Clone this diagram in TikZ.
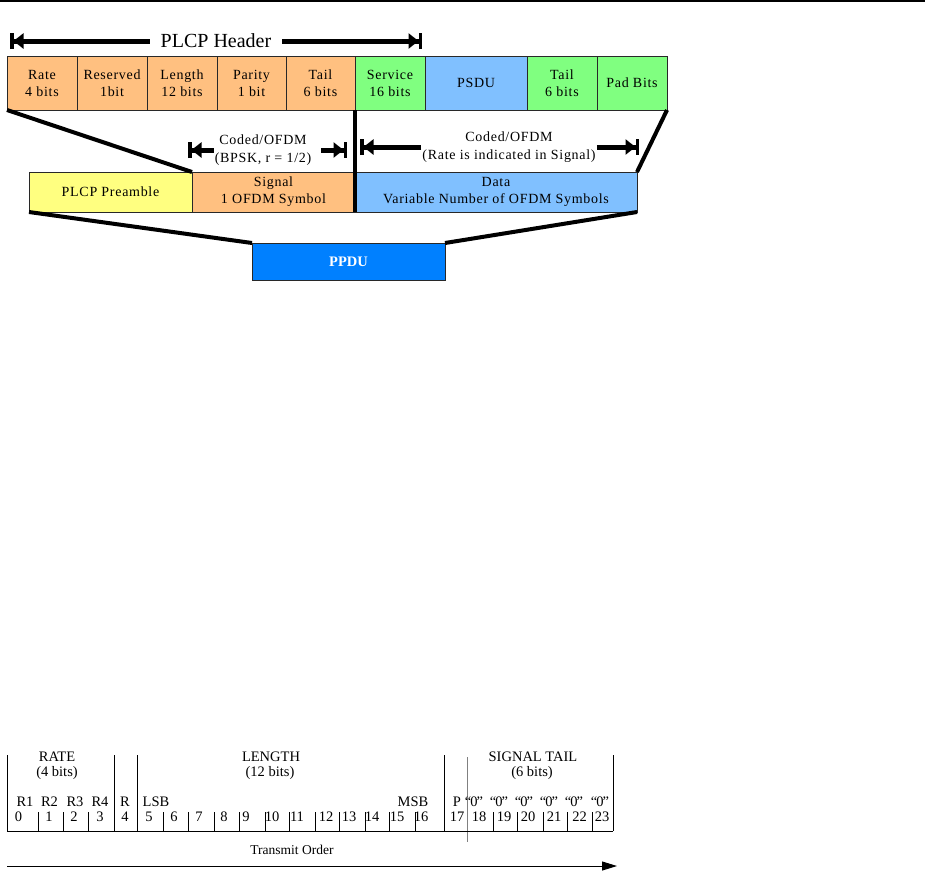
\documentclass[tikz,border=0pt]{standalone}
\usepackage{fontspec}
\setmainfont{Liberation Serif}
\newfontfamily\boxfont[LetterSpace=5]{Liberation Serif}
\usetikzlibrary{arrows.meta}
\definecolor{cOrange}{RGB}{255,192,128}
\definecolor{cGreen}{RGB}{128,255,128}
\definecolor{cLBlue}{RGB}{128,192,255}
\definecolor{cYellow}{RGB}{255,255,128}
\definecolor{cBlue}{RGB}{0,128,255}
\definecolor{cEdge}{RGB}{40,40,40}
\tikzset{
  hd/.tip={Triangle[length=10pt,width=15pt,sep=0pt]Bar[width=16pt,line width=3.5pt]},
  fld/.style={draw=cEdge, line width=0.9pt, inner sep=0pt, outer sep=0pt, align=center,
    font=\boxfont\fontsize{14}{17}\selectfont},
  rowA/.style={fld, minimum height=54pt},
  rowB/.style={fld, minimum height=40pt},
  fat/.style={line width=4pt, black},
  harrow/.style={line width=5pt, black, -hd},
  ctext/.style={align=center, inner sep=1pt, font=\boxfont\fontsize{14}{18}\selectfont},
  tline/.style={line width=0.8pt, black},
  tbl/.style={inner sep=0pt, font=\fontsize{14.5}{16}\selectfont},
}
\begin{document}
\begin{tikzpicture}[x=1pt,y=-1pt]
\useasboundingbox (0,0) rectangle (925,873);
\draw[line width=1.5pt] (0,0.75) -- (925,0.75);

% top row
\node[rowA, fill=cOrange, minimum width=70pt] (rate) at (42,83) {Rate\\4 bits};
\node[rowA, fill=cOrange, minimum width=70pt] (res) at (112,83) {Reserved\\1bit};
\node[rowA, fill=cOrange, minimum width=70pt] (len) at (182,83) {Length\\12 bits};
\node[rowA, fill=cOrange, minimum width=69pt] (par) at (251.5,83) {Parity\\1 bit};
\node[rowA, fill=cOrange, minimum width=69pt] (tail) at (320.5,83) {Tail\\6 bits};
\node[rowA, fill=cGreen, minimum width=70pt] (svc) at (390,83) {Service\\16 bits};
\node[rowA, fill=cLBlue, minimum width=102pt] (psdu) at (476,83) {PSDU};
\node[rowA, fill=cGreen, minimum width=70pt] (tail2) at (562,83) {Tail\\6 bits};
\node[rowA, fill=cGreen, minimum width=70pt] (pad) at (632,83) {Pad Bits};

% second row
\node[rowB, fill=cYellow, minimum width=163pt] (pre) at (110.5,192) {PLCP Preamble};
\node[rowB, fill=cOrange, minimum width=163pt] (sig) at (273.5,192) {Signal\\1 OFDM Symbol};
\node[rowB, fill=cLBlue, minimum width=282pt] (data) at (496,192) {Data\\Variable Number of OFDM Symbols};

% PPDU
\node[fld, fill=cBlue, minimum width=193pt, minimum height=37pt,
      font=\fontsize{14.5}{17}\selectfont\bfseries, text=white] (ppdu) at (348.5,261.5) {PPDU};

% thick connecting lines
\draw[fat] (rate.south west) -- (sig.north west);
\draw[fat] (svc.south west) -- (data.south west);
\draw[fat] (pad.south east) -- (data.north east);
\draw[fat] (pre.south west) -- (ppdu.north west);
\draw[fat] (data.south east) -- (ppdu.north east);

% PLCP header arrow
\node[inner sep=0pt, inner xsep=11pt, font=\fontsize{20}{24}\selectfont] (phdr) at (216,41) {PLCP Header};
\coordinate (phL) at (10,41);
\coordinate (phR) at (422,41);
\draw[harrow] (phdr.west) -- (phL);
\draw[harrow] (phdr.east) -- (phR);

% coded OFDM arrows
\node[ctext] (lcod) at (263,150) {Coded/OFDM\\(BPSK, r = 1/2)};
\coordinate (lcL) at (188,150);
\coordinate (lcR) at (347,150);
\draw[harrow] (lcod.west) -- (lcL);
\draw[harrow] ([xshift=9pt]lcod.east) -- (lcR);

\node[ctext] (rcod) at (509,147) {Coded/OFDM\\(Rate is indicated in Signal)};
\coordinate (rcL) at (360,147);
\coordinate (rcR) at (639,147);
\draw[harrow] (rcod.west) -- (rcL);
\draw[harrow] (rcod.east) -- (rcR);

% bit table
\foreach \x in {7,114,137,444,613} \draw[tline] (\x,755) -- (\x,831);
\draw[line width=0.8pt, gray] (467,757) -- (467,842);
\draw[tline] (7,831) -- (613,831);
\foreach \x in {38,63,88,163,188,214,239,265,289,315,339,365,389,415,493,517,543,567,592}
  \draw[tline] (\x,812) -- (\x,831);

\node[tbl] (hrate) at (57,757) {RATE};
\node[tbl] (hrate2) at (57,773) {(4 bits)};
\node[tbl] (hlen) at (271,757) {LENGTH};
\node[tbl] (hlen2) at (270,773) {(12 bits)};
\node[tbl] (htail) at (533,757) {SIGNAL TAIL};
\node[tbl] (htail2) at (532,773) {(6 bits)};

\foreach \x/\t [count=\i] in {25/R1,49.5/R2,75/R3,100/R4,125/R,156/LSB,413/MSB,457/P}
  \node[tbl] (lab\i) at (\x,802) {\t};
\foreach \x [count=\i] in {474,499,524,549,574,600}
  \node[tbl] (q\i) at (\x,802) {``\kern-1pt 0\kern-1pt''};

\foreach \x/\n in {18.5/0,49/1,74/2,100/3,125/4,149/5,174/6,199/7,224/8,246/9,272/10,297/11,326/12,349/13,372/14,397/15,421/16,457/17,479/18,504/19,528/20,554/21,579.5/22,602/23}
  \node[tbl] (n\n) at (\x,817) {\n};

% transmit order
\node[tbl, font=\fontsize{13.5}{15}\selectfont] (tord) at (292,850) {Transmit Order};
\coordinate (tL) at (7,866);
\coordinate (tR) at (617,866);
\draw[line width=1pt, -{Triangle[length=15pt,width=9pt]}] (tL) -- (tR);
\end{tikzpicture}
\end{document}
